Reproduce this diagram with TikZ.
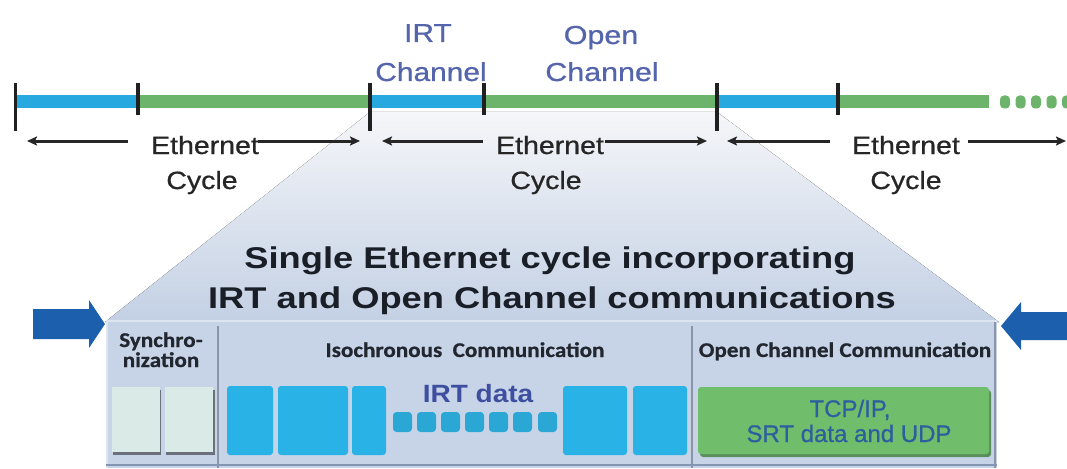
\documentclass[tikz,border=0pt]{standalone}
\usepackage{fontspec}
\usepackage{graphicx}
\setmainfont{Liberation Sans}
\newfontfamily\headfont{Carlito}[FakeBold=0.6]
\newfontfamily\labelfont{Liberation Sans}[FakeBold=0.7]
\usetikzlibrary{arrows.meta}

\definecolor{barblue}{HTML}{27A9E0}
\definecolor{bargreen}{HTML}{6CB36C}
\definecolor{tickcol}{HTML}{202020}
\definecolor{chanlabel}{HTML}{5565AC}
\definecolor{cyclegray}{HTML}{262626}
\definecolor{fantop}{HTML}{F5F6F9}
\definecolor{fanbot}{HTML}{C3D0E4}
\definecolor{panelfill}{HTML}{C7D4E8}
\definecolor{paneltop}{HTML}{DCE4F0}
\definecolor{divider}{HTML}{8A95A8}
\definecolor{panelline}{HTML}{8395B3}
\definecolor{syncfill}{HTML}{DAEAE6}
\definecolor{shadowgray}{HTML}{6A717C}
\definecolor{irtblue}{HTML}{29B2E6}
\definecolor{irtsmall}{HTML}{2BA7D5}
\definecolor{irttext}{HTML}{3E4F9F}
\definecolor{ocgreen}{HTML}{70BD6C}
\definecolor{ocshadow}{HTML}{5A8E5A}
\definecolor{octext}{HTML}{2D5F9E}
\definecolor{arrowblue}{HTML}{1B5FAD}
\definecolor{headtext}{HTML}{22262E}
\definecolor{titletext}{HTML}{1A1E26}

% horizontal stretch of a piece of text
\newcommand{\hstretch}[2]{\scalebox{#1}[1]{#2}}

\begin{document}
\begin{tikzpicture}[x=1pt,y=-1pt,
  tickmark/.style={draw=tickcol, line width=3.4pt},
  cyclbl/.style={font=\labelfont\fontsize{25}{30}\selectfont, text=cyclegray, anchor=base, inner sep=0pt},
  chanlbl/.style={font=\labelfont\fontsize{26}{30}\selectfont, text=chanlabel, anchor=base, inner sep=0pt},
  titlelbl/.style={font=\bfseries\fontsize{30}{36}\selectfont, text=titletext, anchor=base, inner sep=0pt},
  headlbl/.style={font=\headfont\bfseries\fontsize{21}{24}\selectfont, text=headtext, anchor=base, inner sep=0pt},
  irtlbl/.style={font=\bfseries\fontsize{25}{30}\selectfont, text=irttext, anchor=base, inner sep=0pt},
  oclbl/.style={font=\labelfont\fontsize{24}{28}\selectfont, text=octext, anchor=base, inner sep=0pt},
  cycarrow/.style={draw=cyclegray, line width=3pt, -{Stealth[length=10pt,width=9pt,inset=2pt]}},
  syncbox/.style={fill=syncfill},
  syncshadow/.style={fill=shadowgray},
  irtbox/.style={fill=irtblue, rounded corners=3pt},
  irtframe/.style={fill=irtsmall, rounded corners=3.5pt},
  bigarrow/.style={fill=arrowblue},
  dividerline/.style={draw=divider, line width=2pt},
]
\useasboundingbox (0,0) rectangle (1067,468);

% ---- fan from one cycle down to the detailed panel ----
\fill[top color=fantop, bottom color=fanbot] (370,112) -- (717,112) -- (999,322) -- (105,322) -- cycle;

% ---- detailed panel ----
\fill[panelfill] (106,320) rectangle (997,468);
\draw[paneltop, line width=2pt] (106,321) -- (997,321);
\draw[paneltop, line width=1.5pt] (107,322) -- (107,468);
\draw[dividerline] (218,326) -- (218,468);
\draw[dividerline] (692,326) -- (692,468);
\draw[dividerline] (995,322) -- (995,468);
\draw[panelline, line width=1.2pt] (106,465) -- (997,465);

% synchronization slots
\fill[syncshadow] (113,390) rectangle (161,455);
\fill[syncbox] (112,387) rectangle (160,452);
\fill[syncshadow] (166,390) rectangle (215,455);
\fill[syncbox] (165,387) rectangle (213,452);

% isochronous frames
\fill[irtbox] (227,386) rectangle (273,455);
\fill[irtbox] (278,386) rectangle (348,455);
\fill[irtbox] (352,386) rectangle (386,455);
\fill[irtbox] (563,386) rectangle (627,455);
\fill[irtbox] (633,386) rectangle (687,455);
\foreach \x in {393,417,441,465,489,513,538}
  \fill[irtframe] (\x,412) rectangle (\x+19,432);

% open channel block
\fill[ocshadow, rounded corners=3pt] (700,390) rectangle (991,457);
\fill[ocgreen, rounded corners=3pt] (698,387) rectangle (989,454);

% panel texts
\node[headlbl] (sync1) at (161,347) {\hstretch{1.1}{Synchro-}};
\node[headlbl] (sync2) at (161,367) {\hstretch{1.1}{nization}};
\node[headlbl] (isohead) at (465,357) {\hstretch{1.1}{Isochronous\ \ Communication}};
\node[headlbl] (ochead) at (845,357) {\hstretch{1.1}{Open Channel Communication}};
\node[irtlbl] (irtdata) at (478,402) {\hstretch{1.12}{IRT data}};
\node[oclbl] (tcp1) at (850,417) {TCP/IP,};
\node[oclbl] (tcp2) at (849,442) {SRT data and UDP};

% title
\node[titlelbl] (title1) at (550,268) {\hstretch{1.21}{Single Ethernet cycle incorporating}};
\node[titlelbl] (title2) at (552,308) {\hstretch{1.21}{IRT and Open Channel communications}};

% ---- timeline ----
\fill[barblue]  (15.5,95.5) rectangle (138,108.5);
\fill[bargreen] (138,95.5) rectangle (370,108.5);
\fill[barblue]  (370,95.5) rectangle (484,108.5);
\fill[bargreen] (484,95.5) rectangle (717,108.5);
\fill[barblue]  (717,95.5) rectangle (838,108.5);
\fill[bargreen] (838,95.5) rectangle (989,108.5);
\foreach \x in {1005,1020.5,1036,1051.5,1067}
  \fill[bargreen, rounded corners=4pt] (\x-5,95.5) rectangle (\x+5,108.5);

% cycle boundaries (long) and channel boundaries (short)
\draw[tickmark] (15.5,83) -- (15.5,131);
\draw[tickmark] (370,83) -- (370,131);
\draw[tickmark] (717,83) -- (717,131);
\draw[tickmark] (138,83) -- (138,115);
\draw[tickmark] (484,83) -- (484,115);
\draw[tickmark] (838,83) -- (838,115);

% channel labels
\node[chanlbl] (irt1) at (428,42) {\hstretch{1.15}{IRT}};
\node[chanlbl] (irt2) at (431,81) {\hstretch{1.15}{Channel}};
\node[chanlbl] (open1) at (601,44) {\hstretch{1.17}{Open}};
\node[chanlbl] (open2) at (602,81) {\hstretch{1.17}{Channel}};

% cycle labels
\node[cyclbl] (eth1) at (205,154) {\hstretch{1.14}{Ethernet}};
\node[cyclbl] (cyc1) at (202,189) {\hstretch{1.14}{Cycle}};
\node[cyclbl] (eth2) at (550,154) {\hstretch{1.14}{Ethernet}};
\node[cyclbl] (cyc2) at (546,189) {\hstretch{1.14}{Cycle}};
\node[cyclbl] (eth3) at (906,154) {\hstretch{1.14}{Ethernet}};
\node[cyclbl] (cyc3) at (906,189) {\hstretch{1.14}{Cycle}};

% cycle span arrows
\coordinate (a1ls) at (128,141);  \coordinate (a1le) at (27,141);
\coordinate (a1rs) at (258,141);  \coordinate (a1re) at (360,141);
\coordinate (a2ls) at (483,141);  \coordinate (a2le) at (382,141);
\coordinate (a2rs) at (605,141);  \coordinate (a2re) at (707,141);
\coordinate (a3ls) at (830,141);  \coordinate (a3le) at (727,141);
\coordinate (a3rs) at (968,141);  \coordinate (a3re) at (1066,141);
\draw[cycarrow] (a1ls) -- (a1le);
\draw[cycarrow] (a1rs) -- (a1re);
\draw[cycarrow] (a2ls) -- (a2le);
\draw[cycarrow] (a2rs) -- (a2re);
\draw[cycarrow] (a3ls) -- (a3le);
\draw[cycarrow] (a3rs) -- (a3re);

% ---- block arrows entering the panel ----
\fill[bigarrow] (33,309) -- (89,309) -- (89,300) -- (105,324) -- (89,348) -- (89,339) -- (33,339) -- cycle;
\fill[bigarrow] (1067,312) -- (1021,312) -- (1021,302) -- (1001,326) -- (1021,350) -- (1021,340) -- (1067,340) -- cycle;
\end{tikzpicture}
\end{document}
